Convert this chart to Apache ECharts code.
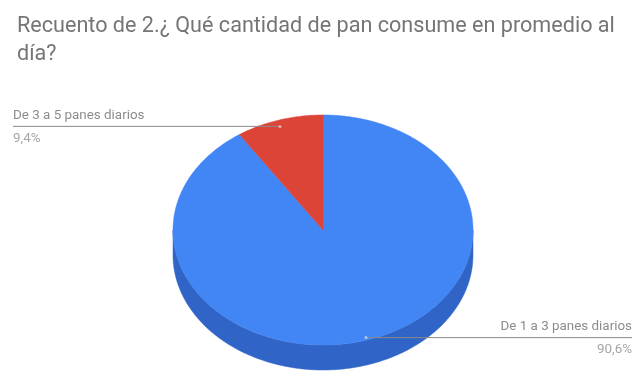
<!DOCTYPE html>
<html>
<head>
<meta charset="utf-8">
<script src="https://cdn.jsdelivr.net/npm/echarts@6/dist/echarts.min.js"></script>
<style>
  html, body { margin: 0; padding: 0; background: #ffffff; }
  #chart { width: 633px; height: 377px; }
</style>
</head>
<body>
<div id="chart"></div>
<script>
// Slices, in drawing order (clockwise from 12 o'clock)
const categories = ['De 1 a 3 panes diarios', 'De 3 a 5 panes diarios'];
const percentValues = [90.6, 9.4];
const topColors = ['#4285f4', '#db4437'];
const sideColors = ['#3064c6', '#a8352b'];

const titleText = 'Recuento de 2.\u00bf Qu\u00e9 cantidad de pan consume en promedio al\nd\u00eda?';

// Tilted-pie geometry
const CX = 323, CY = 230, RX = 150, RY = 115, DEPTH = 25;
const LABEL_LEFT = 13, LABEL_RIGHT = 632;
const FONT = 'Roboto, "Liberation Sans", sans-serif';

const total = percentValues.reduce((a, b) => a + b, 0);
const startFractions = [];
percentValues.reduce((acc, v, i) => { startFractions[i] = acc; return acc + v; }, 0);

// point on the ellipse rim, angle measured clockwise from the top
function rim(theta, f, dy) {
  return [CX + RX * f * Math.sin(theta), CY - RY * f * Math.cos(theta) + (dy || 0)];
}

// anchor of a leader line inside a slice (slightly lowered for the tilt)
function anchor(theta) {
  return [CX + RX * 0.985 * Math.sin(theta), CY + 2 - RY * 0.96 * Math.cos(theta)];
}

function formatPct(v) {
  return v.toFixed(1).replace('.', ',') + '%';
}

function renderSlice(params, api) {
  const i = params.dataIndex;
  const v = api.value(0);
  const a1 = startFractions[i] / total * Math.PI * 2;
  const a2 = a1 + v / total * Math.PI * 2;
  const children = [];

  // front wall: only the part facing the viewer (between 90 and 270 degrees)
  const s1 = Math.max(a1, Math.PI / 2), s2 = Math.min(a2, Math.PI * 1.5);
  if (s2 > s1) {
    const upper = [], lower = [];
    const n = Math.max(8, Math.ceil((s2 - s1) / 0.02));
    for (let k = 0; k <= n; k++) {
      const t = s1 + (s2 - s1) * k / n;
      upper.push(rim(t, 1));
      lower.push(rim(t, 1, DEPTH));
    }
    children.push({
      type: 'polygon',
      z2: 1,
      shape: { points: upper.concat(lower.reverse()) },
      style: { fill: sideColors[i], stroke: sideColors[i], lineWidth: 0.5 }
    });
  }

  // top face
  const face = [[CX, CY]];
  const m = Math.max(8, Math.ceil((a2 - a1) / 0.02));
  for (let k = 0; k <= m; k++) {
    face.push(rim(a1 + (a2 - a1) * k / m, 1));
  }
  children.push({
    type: 'polygon',
    z2: 5,
    shape: { points: face },
    style: { fill: topColors[i], stroke: topColors[i], lineWidth: 0.5 }
  });

  // leader line and label
  const p = anchor((a1 + a2) / 2);
  const onLeft = p[0] < CX;
  const endX = onLeft ? LABEL_LEFT : LABEL_RIGHT;
  children.push({
    type: 'line',
    z2: 10,
    shape: { x1: p[0], y1: p[1], x2: endX, y2: p[1] },
    style: { stroke: '#8a8a8a', lineWidth: 1 }
  });
  children.push({
    type: 'circle',
    z2: 11,
    shape: { cx: p[0], cy: p[1], r: 1.5 },
    style: { fill: 'rgba(255,255,255,0.55)' }
  });
  children.push({
    type: 'text',
    z2: 10,
    style: {
      text: categories[i], x: endX, y: p[1] - 4,
      align: onLeft ? 'left' : 'right', verticalAlign: 'bottom',
      fill: '#8c8c8c', fontSize: 13.4, fontFamily: FONT
    }
  });
  children.push({
    type: 'text',
    z2: 10,
    style: {
      text: formatPct(v / total * 100), x: endX, y: p[1] + 6,
      align: onLeft ? 'left' : 'right', verticalAlign: 'top',
      fill: '#a6a6a6', fontSize: 13.4, fontFamily: FONT
    }
  });

  return { type: 'group', children: children };
}

const chart = echarts.init(document.getElementById('chart'), null, { renderer: 'canvas' });
chart.setOption({
  backgroundColor: '#ffffff',
  animation: false,
  title: {
    text: titleText,
    left: 12,
    top: 8,
    textStyle: {
      fontFamily: FONT,
      fontSize: 21.6,
      fontWeight: 'normal',
      color: '#757575',
      lineHeight: 28
    }
  },
  series: [{
    type: 'custom',
    coordinateSystem: 'none',
    renderItem: renderSlice,
    data: percentValues.map((v, i) => ({ name: categories[i], value: [v] }))
  }]
});
</script>
</body>
</html>
